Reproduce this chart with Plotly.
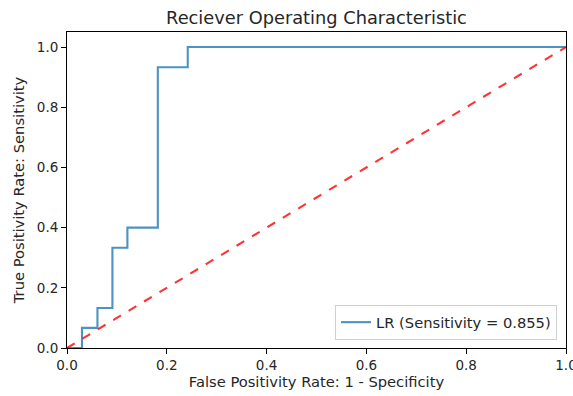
import plotly.graph_objects as go

fpr = [0.0, 0.030, 0.030, 0.061, 0.061, 0.091, 0.091, 0.121, 0.121, 0.182, 0.182, 0.242, 0.242, 1.0]
tpr = [0.0, 0.0, 0.067, 0.067, 0.133, 0.133, 0.333, 0.333, 0.400, 0.400, 0.933, 0.933, 1.0, 1.0]
diag = [0.0, 1.0]
auc_label = "LR (Sensitivity = 0.855)"
ticks = [0.0, 0.2, 0.4, 0.6, 0.8, 1.0]
tick_text = ["0.0", "0.2", "0.4", "0.6", "0.8", "1.0"]

fig = go.Figure()
fig.add_trace(go.Scatter(x=fpr, y=tpr, mode="lines", name=auc_label,
                         line=dict(color="rgba(31,119,180,0.8)", width=2.1)))
fig.add_trace(go.Scatter(x=diag, y=diag, mode="lines", showlegend=False,
                         line=dict(color="rgba(255,0,0,0.8)", width=2.1, dash="dash")))

font = "DejaVu Sans"
txt = "#262626"
axis_common = dict(showgrid=False, zeroline=False, showline=True, linecolor="black",
                   linewidth=1, mirror=True, ticks="outside", ticklen=5, tickwidth=1,
                   tickcolor="black", tickfont=dict(family=font, size=13.5, color=txt),
                   tickvals=ticks, ticktext=tick_text, ticklabeloverflow="allow",
                   automargin=False)
fig.update_xaxes(range=[0, 1], title=dict(text="False Positivity Rate: 1 - Specificity",
                 font=dict(family=font, size=14.7, color=txt), standoff=3), **axis_common)
fig.update_yaxes(range=[0, 1.05], title=dict(text="True Positivity Rate: Sensitivity",
                 font=dict(family=font, size=14.7, color=txt), standoff=8), **axis_common)

fig.update_layout(
    width=573, height=396,
    margin=dict(l=67, r=7, t=32, b=48, autoexpand=False),
    paper_bgcolor="white", plot_bgcolor="white",
    title=dict(text="Reciever Operating Characteristic", x=(67 + 566) / 2 / 573, xanchor="center",
               y=1 - 18 / 396, yanchor="middle",
               font=dict(family=font, size=17.8, color=txt)),
    legend=dict(x=0.982, xanchor="right", y=0.025, yanchor="bottom",
                bordercolor="#d0d0d0", borderwidth=1, bgcolor="rgba(255,255,255,0.8)",
                font=dict(family=font, size=14.7, color=txt)),
)

fig.write_html("out.html")
